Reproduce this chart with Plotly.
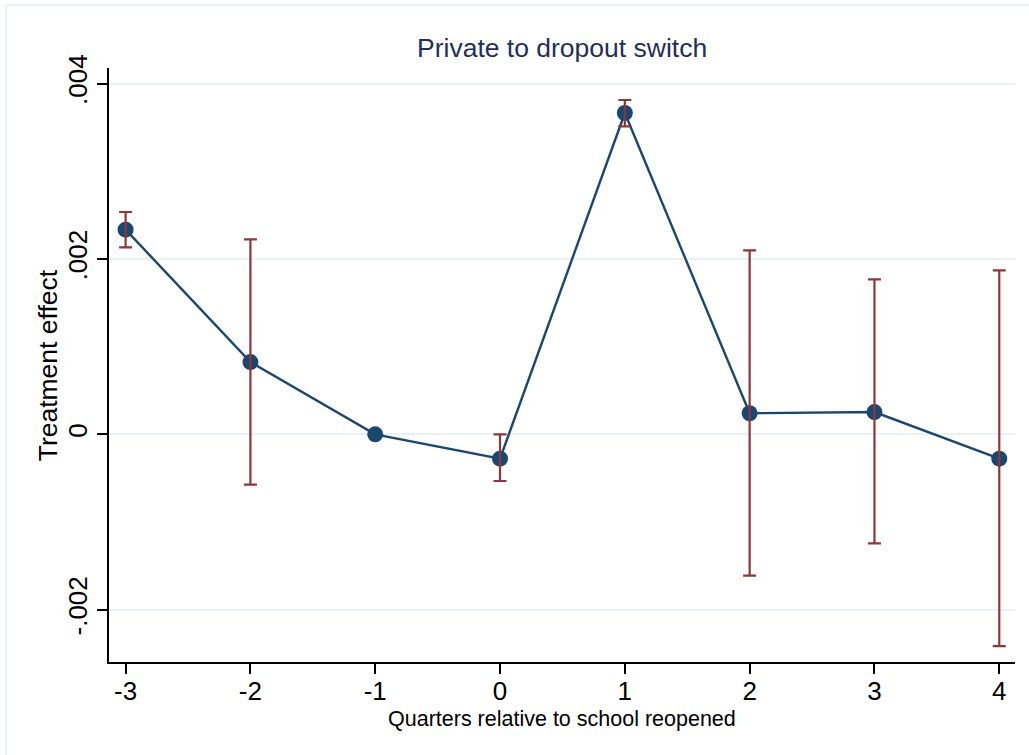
import plotly.graph_objects as go

quarters = [-3, -2, -1, 0, 1, 2, 3, 4]
effect = [0.002334, 0.000824, 0.0, -0.000278, 0.003664, 0.000240, 0.000254, -0.000278]
ci_upper = [0.002535, 0.002223, None, 0.000000, 0.003812, 0.002098, 0.001767, 0.001870]
ci_lower = [0.002132, -0.000574, None, -0.000532, 0.003512, -0.001611, -0.001243, -0.002414]

ytick_vals = [-0.002, 0.0, 0.002, 0.004]
ytick_text = ["-.002", "0", ".002", ".004"]
xtick_vals = quarters
xtick_text = [str(q) for q in quarters]

title_text = "Private to dropout switch"
xtitle = "Quarters relative to school reopened"
ytitle = "Treatment effect"

NAVY = "#1a476f"
MAROON = "#90353b"
GRID = "#eaf1f3"
FONT = "Liberation Sans, Arial, Helvetica, sans-serif"

# CI points only where defined
ci_x, ci_y, ci_plus, ci_minus = [], [], [], []
for q, e, u, l in zip(quarters, effect, ci_upper, ci_lower):
    if u is None:
        continue
    ci_x.append(q)
    ci_y.append(e)
    ci_plus.append(u - e)
    ci_minus.append(e - l)

fig = go.Figure()
fig.add_trace(go.Scatter(
    x=quarters, y=effect, mode="lines+markers",
    line=dict(color=NAVY, width=2.4),
    marker=dict(color=NAVY, size=16),
    showlegend=False, hoverinfo="skip",
))
fig.add_trace(go.Scatter(
    x=ci_x, y=ci_y, mode="markers",
    marker=dict(color="rgba(0,0,0,0)", size=1),
    error_y=dict(type="data", symmetric=False, array=ci_plus, arrayminus=ci_minus,
                 color=MAROON, thickness=2.2, width=6.5),
    showlegend=False, hoverinfo="skip",
))

W, H = 1029, 755
L, R, T, B = 108.7, 14, 67.7, 93.3
pw, ph = W - L - R, H - T - B

def px(x):
    return (x - L) / pw

def py(y):
    return (H - B - y) / ph

fig.update_layout(
    width=W, height=H,
    margin=dict(l=L, r=R, t=T, b=B, pad=0),
    paper_bgcolor="white", plot_bgcolor="white",
    font=dict(family=FONT, color="black"),
    showlegend=False,
    xaxis=dict(
        range=[-3.133, 4.126], tickvals=xtick_vals, ticktext=xtick_text,
        showgrid=False, zeroline=False, showline=True, linecolor="black", linewidth=1.5,
        ticks="outside", ticklen=10, tickwidth=1.5, tickcolor="black",
        ticklabelstandoff=-5,
        tickfont=dict(size=26, family=FONT, color="black"),
    ),
    yaxis=dict(
        range=[-0.002596, 0.004177], tickvals=ytick_vals, ticktext=ytick_text,
        showgrid=True, gridcolor=GRID, gridwidth=1.5, zeroline=False,
        showline=True, linecolor="black", linewidth=1.5,
        ticks="outside", ticklen=10, tickwidth=1.5, tickcolor="black",
        tickangle=-90, tickfont=dict(size=26, family=FONT, color="black"),
    ),
    shapes=[dict(type="rect", xref="paper", yref="paper",
                 x0=px(6), x1=px(1040), y0=py(765), y1=py(5),
                 line=dict(color="#e8eef0", width=1.5), layer="below")],
    annotations=[
        dict(text=title_text, xref="paper", yref="paper", x=0.5, y=py(48),
             showarrow=False, xanchor="center", yanchor="middle",
             font=dict(size=26.5, family=FONT, color="#1f2f5a")),
        dict(text=xtitle, xref="paper", yref="paper", x=0.5, y=py(719),
             showarrow=False, xanchor="center", yanchor="middle",
             font=dict(size=21.5, family=FONT, color="black")),
        dict(text=ytitle, xref="paper", yref="paper", x=px(48), y=0.5,
             showarrow=False, xanchor="center", yanchor="middle", textangle=-90,
             font=dict(size=26.5, family=FONT, color="black")),
    ],
)

fig.write_html("out.html")
